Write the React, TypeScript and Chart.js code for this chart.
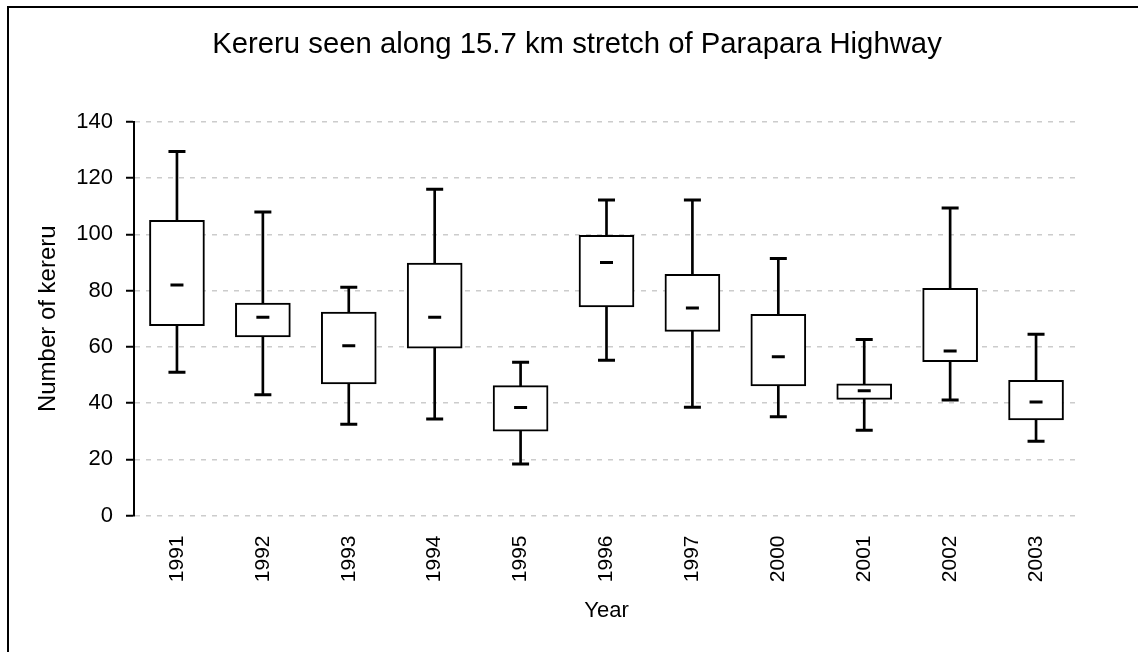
import React, { useEffect, useRef } from "react";
import { Chart, registerables } from "chart.js";

Chart.register(...registerables);

const title = "Kereru seen along 15.7 km stretch of Parapara Highway";
const xTitle = "Year";
const yTitle = "Number of kereru";

const years = ["1991", "1992", "1993", "1994", "1995", "1996", "1997", "2000", "2001", "2002", "2003"];
const whiskerMin = [51, 43, 32.5, 34.3, 18.3, 55.2, 38.5, 35.1, 30.3, 41.1, 26.4];
const boxLow = [67.5, 63.5, 46.8, 59.5, 30, 74.2, 65.5, 46.1, 41.3, 54.7, 34];
const medians = [82, 70.5, 60.4, 70.5, 38.4, 90, 73.8, 56.5, 44.4, 58.5, 40.4];
const boxHigh = [105, 75.6, 72.4, 89.8, 46.2, 99.7, 85.8, 71.6, 46.8, 80.8, 48.1];
const whiskerMax = [129.5, 108, 81.2, 116.1, 54.5, 112.2, 112.2, 91.4, 62.6, 109.4, 64.5];

const yMin = 0;
const yMax = 140;
const yStep = 20;

const FONT = "'Liberation Sans', Arial, Helvetica, sans-serif";

export default function App() {
  const ref = useRef<HTMLCanvasElement | null>(null);

  useEffect(() => {
    if (!ref.current) return;
    Chart.defaults.font.family = FONT;
    const capStyle = {
      type: "line",
      showLine: false,
      pointStyle: "line",
      pointBorderWidth: 3,
      pointBorderColor: "#000",
      pointBackgroundColor: "#000",
      order: 0,
    };
    const chart = new Chart(ref.current, {
      type: "bar",
      data: {
        labels: years,
        datasets: [
          { ...capStyle, label: "max", data: whiskerMax, pointRadius: 8.5, pointHoverRadius: 8.5 } as any,
          { ...capStyle, label: "min", data: whiskerMin, pointRadius: 8.5, pointHoverRadius: 8.5 } as any,
          { ...capStyle, label: "median", data: medians, pointRadius: 6.5, pointHoverRadius: 6.5 } as any,
          {
            label: "box",
            data: years.map((_, i) => [boxLow[i], boxHigh[i]]),
            backgroundColor: "#fff",
            borderColor: "#000",
            borderWidth: 2,
            borderSkipped: false,
            barThickness: 55,
            grouped: false,
            order: 1,
          } as any,
          {
            label: "whisker",
            data: years.map((_, i) => [whiskerMin[i], whiskerMax[i]]),
            backgroundColor: "#000",
            borderWidth: 0,
            barThickness: 2,
            grouped: false,
            order: 2,
          } as any,
        ],
      },
      options: {
        responsive: false,
        animation: false,
        events: [],
        layout: { padding: { left: 16, right: 0, top: 0, bottom: 0 } },
        plugins: {
          legend: { display: false },
          tooltip: { enabled: false },
          title: {
            display: true,
            text: title,
            color: "#000",
            font: { size: 29.3, weight: "normal", family: FONT, lineHeight: 1.2 },
            padding: { top: 27.4, bottom: 59.4 },
          },
        },
        scales: {
          x: {
            grid: { display: false, drawTicks: false },
            border: { display: false },
            ticks: {
              color: "#000",
              font: { size: 21, family: FONT },
              minRotation: 90,
              maxRotation: 90,
              padding: 20,
              autoSkip: false,
            },
            title: {
              display: true,
              text: xTitle,
              color: "#000",
              font: { size: 22, family: FONT },
              padding: { top: 0, bottom: 27.8 },
            },
            afterFit: (s: any) => {
              s.height = 136.5;
            },
          },
          y: {
            min: yMin,
            max: yMax,
            ticks: {
              stepSize: yStep,
              color: "#000",
              font: { size: 22, family: FONT },
              padding: 13,
            },
            grid: {
              color: "#cccccc",
              lineWidth: 1.5,
              tickLength: 8,
              tickColor: "#000",
              tickWidth: 2,
              tickBorderDash: [],
            },
            border: { display: true, color: "#000", width: 2, dash: [5, 6] },
            title: {
              display: true,
              text: yTitle,
              color: "#000",
              font: { size: 24, family: FONT },
              padding: { top: 18.3, bottom: 0 },
            },
            afterFit: (s: any) => {
              s.width = 118;
            },
          },
          yRight: {
            position: "right",
            display: true,
            min: yMin,
            max: yMax,
            grid: { display: false, drawTicks: false },
            border: { display: false },
            ticks: { display: false },
            afterFit: (s: any) => {
              s.width = 59;
            },
          },
        },
      } as any,
    });
    return () => chart.destroy();
  }, []);

  return (
    <div
      style={{
        position: "fixed",
        left: 0,
        top: 0,
        width: 1138,
        height: 652,
        overflow: "hidden",
        background: "#fff",
      }}
    >
      <div
        style={{
          position: "absolute",
          left: 7,
          top: 6,
          width: 1200,
          height: 700,
          borderLeft: "2px solid #000",
          borderTop: "2px solid #000",
        }}
      />
      <canvas
        ref={ref}
        width={1138}
        height={652}
        style={{ position: "absolute", left: 0, top: 0, display: "block" }}
      />
    </div>
  );
}
